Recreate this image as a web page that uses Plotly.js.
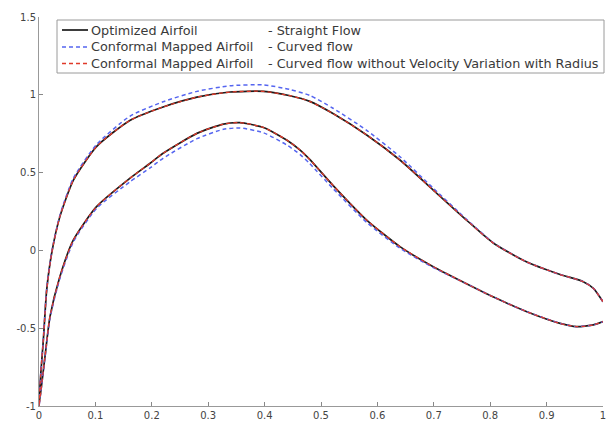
<!DOCTYPE html>
<html>
<head>
<meta charset="utf-8">
<script src="https://cdn.plot.ly/plotly-3.0.1.min.js"></script>
<style>
html,body{margin:0;padding:0;background:#fff;}
#chart{width:610px;height:430px;}
</style>
</head>
<body>
<div id="chart"></div>
<script>
// Upper (suction) surface samples, chord position
var xUpper = [0, 0.003, 0.0077, 0.0136, 0.0225, 0.037, 0.061, 0.102, 0.161, 0.22, 0.28, 0.339, 0.398, 0.445, 0.48, 0.522, 0.581, 0.64, 0.699, 0.758, 0.806, 0.865, 0.924, 0.965, 0.983, 1.0];
var yOptUpper = [-1, -0.8, -0.576, -0.255, -0.017, 0.217, 0.452, 0.667, 0.835, 0.922, 0.985, 1.018, 1.022, 0.994, 0.958, 0.878, 0.742, 0.581, 0.388, 0.195, 0.046, -0.075, -0.155, -0.201, -0.244, -0.33];
var yConfUpper = [-1, -0.8, -0.576, -0.25, -0.012, 0.225, 0.465, 0.68, 0.862, 0.955, 1.022, 1.058, 1.064, 1.034, 0.996, 0.912, 0.772, 0.602, 0.4, 0.2, 0.048, -0.075, -0.155, -0.201, -0.244, -0.33];
var yConf2Upper = [-1, -0.8, -0.576, -0.255, -0.017, 0.217, 0.452, 0.667, 0.835, 0.922, 0.985, 1.018, 1.022, 0.994, 0.958, 0.878, 0.742, 0.581, 0.388, 0.195, 0.046, -0.075, -0.155, -0.201, -0.244, -0.33];

// Lower (pressure) surface samples
var xLower = [0, 0.0106, 0.0195, 0.037, 0.061, 0.102, 0.161, 0.197, 0.22, 0.28, 0.327, 0.356, 0.398, 0.439, 0.463, 0.48, 0.522, 0.581, 0.64, 0.699, 0.75, 0.806, 0.865, 0.924, 0.953, 0.983, 1.0];
var yOptLower = [-1, -0.683, -0.426, -0.169, 0.067, 0.281, 0.463, 0.56, 0.624, 0.752, 0.812, 0.821, 0.79, 0.71, 0.645, 0.585, 0.415, 0.195, 0.024, -0.105, -0.2, -0.3, -0.394, -0.469, -0.49, -0.479, -0.458];
var yConfLower = [-1, -0.69, -0.435, -0.18, 0.055, 0.27, 0.44, 0.53, 0.592, 0.718, 0.778, 0.787, 0.756, 0.678, 0.616, 0.558, 0.395, 0.18, 0.014, -0.11, -0.2, -0.3, -0.394, -0.469, -0.49, -0.479, -0.458];
var yConf2Lower = [-1, -0.683, -0.426, -0.169, 0.067, 0.281, 0.463, 0.56, 0.624, 0.752, 0.812, 0.821, 0.79, 0.71, 0.645, 0.585, 0.415, 0.195, 0.024, -0.105, -0.2, -0.3, -0.394, -0.469, -0.49, -0.479, -0.458];

var seriesNames = ['Optimized Airfoil', 'Conformal Mapped Airfoil', 'Conformal Mapped Airfoil'];
var caseNames = ['- Straight Flow', '- Curved flow', '- Curved flow without Velocity Variation with Radius'];

var xTickVals = [0, 0.1, 0.2, 0.3, 0.4, 0.5, 0.6, 0.7, 0.8, 0.9, 1];
var xTickText = ['0', '0.1', '0.2', '0.3', '0.4', '0.5', '0.6', '0.7', '0.8', '0.9', '1'];
var yTickVals = [-1, -0.5, 0, 0.5, 1, 1.5];
var yTickText = ['-1', '-0.5', '0', '0.5', '1', '1.5'];

function loop(xu, yu, xl, yl) {
  return {
    x: xu.slice().reverse().concat(xl.slice(1)),
    y: yu.slice().reverse().concat(yl.slice(1))
  };
}

var a = loop(xUpper, yOptUpper, xLower, yOptLower);
var b = loop(xUpper, yConfUpper, xLower, yConfLower);
var c = loop(xUpper, yConf2Upper, xLower, yConf2Lower);

var styles = [
  {color: '#1a1a1a', width: 1.7, dash: 'solid'},
  {color: '#5565f0', width: 1.5, dash: '4px,3px'},
  {color: '#e03a2a', width: 1.3, dash: '4px,3px'}
];
var loops = [a, b, c];

var traces = loops.map(function(d, i) {
  return {x: d.x, y: d.y, mode: 'lines', name: seriesNames[i] + ' ' + caseNames[i], showlegend: false,
          line: {color: styles[i].color, width: styles[i].width, dash: styles[i].dash, shape: 'spline', smoothing: 0.6}};
});

// Legend geometry (pixels in the 610x430 page)
var L = 39, T = 17, PW = 564, PH = 389;
function px(v) { return (v - L) / PW; }
function py(v) { return (T + PH - v) / PH; }
var rowPix = [30, 47, 63.5];

var legFont = {family: 'DejaVu Sans, Liberation Sans, sans-serif', size: 12.8, color: '#3a3a3a'};
var annotations = [];
var shapes = [{type: 'rect', xref: 'paper', yref: 'paper', x0: px(57), x1: px(604), y0: py(73), y1: py(20),
               line: {color: '#9a9a9a', width: 1}, fillcolor: 'rgba(0,0,0,0)'}];
rowPix.forEach(function(r, i) {
  shapes.push({type: 'line', xref: 'paper', yref: 'paper', x0: px(62), x1: px(88), y0: py(r), y1: py(r),
               line: {color: styles[i].color, width: styles[i].width, dash: styles[i].dash}});
  annotations.push({xref: 'paper', yref: 'paper', x: px(89), y: py(r), xanchor: 'left', yanchor: 'middle',
                    text: seriesNames[i], showarrow: false, font: legFont});
  annotations.push({xref: 'paper', yref: 'paper', x: px(266), y: py(r), xanchor: 'left', yanchor: 'middle',
                    text: caseNames[i], showarrow: false, font: legFont});
});

var font = {family: 'DejaVu Sans, Liberation Sans, sans-serif', size: 10, color: '#444'};

var layout = {
  width: 610, height: 430,
  margin: {l: L, r: 7, t: T, b: 24},
  paper_bgcolor: '#fff', plot_bgcolor: '#fff',
  font: font,
  showlegend: false,
  xaxis: {range: [0, 1], tickvals: xTickVals, ticktext: xTickText, ticks: 'inside', ticklen: 4, tickcolor: '#888',
          showgrid: false, zeroline: false, showline: true, linecolor: '#999', linewidth: 1, mirror: false,
          tickfont: font, fixedrange: true},
  yaxis: {range: [-1, 1.5], tickvals: yTickVals, ticktext: yTickText, ticks: 'inside', ticklen: 4, tickcolor: '#888',
          showgrid: false, zeroline: false, showline: true, linecolor: '#999', linewidth: 1, mirror: false,
          tickfont: font, fixedrange: true},
  shapes: shapes,
  annotations: annotations
};

Plotly.newPlot('chart', traces, layout, {displayModeBar: false, staticPlot: true});
</script>
</body>
</html>
